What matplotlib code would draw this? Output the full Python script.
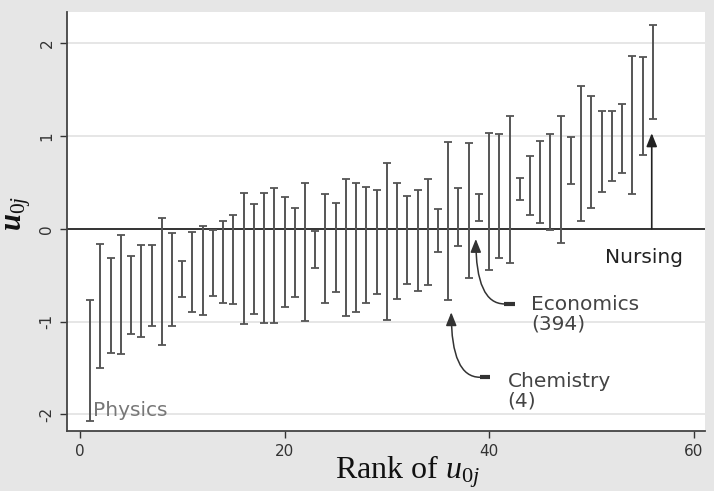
import numpy as np
import matplotlib
matplotlib.use("Agg")
import matplotlib.pyplot as plt

plt.rcParams['mathtext.fontset'] = 'custom'
plt.rcParams['mathtext.rm'] = 'Liberation Serif'
plt.rcParams['mathtext.it'] = 'Liberation Serif:italic'
plt.rcParams['mathtext.bf'] = 'Liberation Serif:bold:italic'

# 95% intervals of the department residuals, in rank order
rank = np.arange(1, 57)
lower = [-2.07, -1.50, -1.34, -1.35, -1.13, -1.17, -1.05, -1.25, -1.05, -0.73,
         -0.90, -0.93, -0.72, -0.80, -0.81, -1.03, -0.92, -1.02, -1.01, -0.84,
         -0.73, -0.99, -0.42, -0.80, -0.68, -0.94, -0.90, -0.80, -0.70, -0.98,
         -0.76, -0.60, -0.67, -0.61, -0.25, -0.77, -0.19, -0.53, 0.08, -0.44,
         -0.32, -0.37, 0.31, 0.15, 0.065, -0.01, -0.155, 0.48, 0.08, 0.22,
         0.40, 0.51, 0.60, 0.37, 0.79, 1.18]
upper = [-0.77, -0.16, -0.32, -0.065, -0.29, -0.18, -0.17, 0.12, -0.05, -0.35,
         -0.03, 0.03, -0.015, 0.08, 0.15, 0.39, 0.27, 0.39, 0.44, 0.34,
         0.22, 0.49, -0.02, 0.37, 0.28, 0.54, 0.49, 0.45, 0.42, 0.71,
         0.49, 0.35, 0.42, 0.54, 0.21, 0.93, 0.44, 0.92, 0.37, 1.03,
         1.02, 1.21, 0.55, 0.78, 0.95, 1.02, 1.21, 0.99, 1.54, 1.43,
         1.27, 1.27, 1.34, 1.86, 1.85, 2.19]

xticks = [0, 20, 40, 60]
yticks = [-2, -1, 0, 1, 2]

# labelled departments: text, text position, arrow start, arrow tip
labels = ["Economics\n(394)", "Chemistry\n(4)"]
label_xy = [(44.1, -0.92), (41.8, -1.75)]
arrow_from = [(41.5, -0.81), (39.1, -1.60)]
arrow_to = [(38.7, -0.11), (36.3, -0.90)]

lower = np.array(lower)
upper = np.array(upper)
mid = (lower + upper) / 2

fig = plt.figure(figsize=(7.14, 4.91), dpi=100)
fig.patch.set_facecolor('#e6e6e6')
ax = fig.add_axes([0.0938, 0.122, 0.8935, 0.8535])
ax.set_facecolor('white')

for yt in yticks:
    if yt != 0:
        ax.axhline(yt, color='#e2e2e2', lw=1.2, zorder=0)
ax.axhline(0, color='#333333', lw=1.4, zorder=1)

ax.errorbar(rank, mid, yerr=[mid - lower, upper - mid], fmt='none',
            ecolor='#555555', elinewidth=1.4, capsize=3, capthick=1.3, zorder=2)

ax.set_xlim(-1.27, 61.1)
ax.set_ylim(-2.18, 2.335)
ax.set_xticks(xticks)
ax.set_xticklabels(['0', '20', '40', '60'])
ax.set_yticks(yticks)
ax.set_yticklabels([str(v) for v in yticks], rotation=90, va='center')
ax.tick_params(direction='out', length=5, width=1, colors='#333333',
               labelsize=11, pad=4)
for lab in ax.get_xticklabels() + ax.get_yticklabels():
    lab.set_family(['Liberation Sans Narrow', 'DejaVu Sans'])
for s in ['top', 'right']:
    ax.spines[s].set_visible(False)
for s in ['left', 'bottom']:
    ax.spines[s].set_color('#444444')
    ax.spines[s].set_linewidth(1.3)

# annotations
head = '-|>,head_length=0.8,head_width=0.32'
ax.text(1.3, -1.96, "Physics", color='#777777', fontsize=14.5, va='center',
        ha='left', family='DejaVu Sans')
ax.annotate("", xy=(55.9, 1.03), xytext=(55.9, 0.0),
            arrowprops=dict(arrowstyle=head, color='#222222', lw=1.2,
                            shrinkA=0, shrinkB=0))
ax.text(55.1, -0.31, "Nursing", color='#222222', fontsize=14.5, va='center',
        ha='center', family='DejaVu Sans')
for txt, (tx, ty), (ax0, ay0), (ax1, ay1) in zip(labels, label_xy, arrow_from, arrow_to):
    ax.text(tx, ty, txt, color='#444444', fontsize=14.5, va='center', ha='left',
            linespacing=1.05, family='DejaVu Sans')
    ax.plot([ax0, ax0 + 1.0], [ay0, ay0], color='#333333', lw=3,
            solid_capstyle='butt')
    ax.annotate("", xy=(ax1, ay1), xytext=(ax0, ay0),
                arrowprops=dict(arrowstyle=head, color='#333333', lw=1.1,
                                connectionstyle='angle3,angleA=0,angleB=90',
                                shrinkA=0, shrinkB=0))

fig.text(0.026, 0.565, r'$\mathbf{u}_{0j}$', rotation=90, fontsize=22,
         ha='center', va='center', color='#111111')
fig.text(0.571, 0.026, r'Rank of $u_{0j}$', fontsize=23, ha='center',
         va='baseline', color='#111111', family='Liberation Serif')

fig.savefig('out.png', dpi=100, facecolor=fig.get_facecolor())
